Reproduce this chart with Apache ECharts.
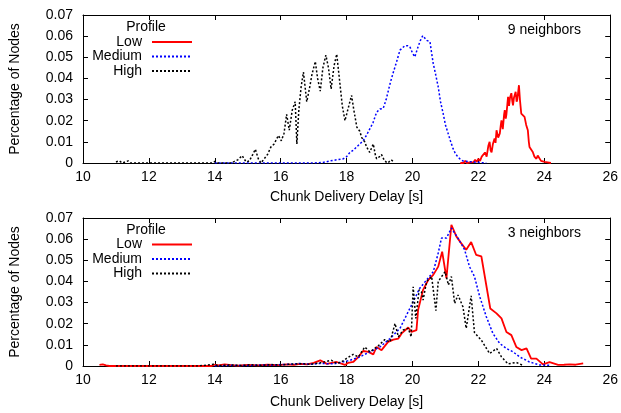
<!DOCTYPE html>
<html>
<head>
<meta charset="utf-8">
<script src="https://cdn.jsdelivr.net/npm/echarts@6/dist/echarts.min.js"></script>
<style>html,body{margin:0;padding:0;background:#fff}#c{width:621px;height:413px}</style>
</head>
<body>
<div id="c"></div>
<script>
// ---- data ----
const profiles = ['Low', 'Medium', 'High'];
const panelLabels = ['9 neighbors', '3 neighbors'];
const xAxisTitle = 'Chunk Delivery Delay [s]';
const yAxisTitle = 'Percentage of Nodes';
const xTicks = [10, 12, 14, 16, 18, 20, 22, 24, 26];
const yTicks = ['0', '0.01', '0.02', '0.03', '0.04', '0.05', '0.06', '0.07'];

// 9 neighbors
const low9 = [[21.45,0],[21.5,0.0005],[21.55,0],[21.6,0.001],[21.65,0],[21.7,0.0008],[21.75,0.0003],[21.8,0.0012],[21.85,0.0004],[21.9,0.0015],[21.95,0.0005],[22.0,0.002],[22.05,0.001],[22.1,0.003],[22.15,0.0025],[22.2,0.005],[22.25,0.003],[22.3,0.008],[22.34,0.010],[22.37,0.006],[22.4,0.005],[22.44,0.009],[22.49,0.0116],[22.52,0.0095],[22.55,0.0155],[22.6,0.012],[22.65,0.014],[22.68,0.018],[22.7,0.0202],[22.74,0.016],[22.78,0.023],[22.8,0.025],[22.83,0.021],[22.85,0.023],[22.88,0.028],[22.9,0.0313],[22.93,0.027],[22.96,0.031],[23.0,0.033],[23.03,0.029],[23.05,0.0273],[23.08,0.031],[23.13,0.0337],[23.16,0.029],[23.18,0.030],[23.21,0.034],[23.23,0.0368],[23.26,0.03],[23.3,0.0234],[23.34,0.024],[23.4,0.0218],[23.45,0.018],[23.5,0.0155],[23.53,0.01],[23.55,0.0076],[23.6,0.007],[23.65,0.0052],[23.7,0.003],[23.76,0.002],[23.8,0.0035],[23.86,0.0028],[23.9,0.001],[23.95,0.0015],[24.01,0.0005],[24.05,0.0012],[24.1,0.0003],[24.16,0.001],[24.2,0]];
const medium9 = [[14.0,0],[15.0,0],[16.0,0],[17.0,0],[17.3,0.0003],[17.5,0.001],[17.7,0.0015],[17.9,0.002],[18.0,0.003],[18.1,0.005],[18.2,0.006],[18.3,0.0075],[18.4,0.009],[18.5,0.0105],[18.6,0.013],[18.7,0.016],[18.8,0.019],[18.91,0.024],[19.01,0.0255],[19.11,0.0258],[19.2,0.03],[19.32,0.0376],[19.4,0.042],[19.5,0.047],[19.62,0.0534],[19.77,0.0555],[19.85,0.0555],[19.92,0.055],[20.0,0.052],[20.07,0.0502],[20.17,0.055],[20.24,0.058],[20.31,0.0602],[20.37,0.0595],[20.43,0.058],[20.53,0.0573],[20.58,0.052],[20.63,0.047],[20.7,0.042],[20.78,0.036],[20.85,0.029],[20.93,0.0234],[21.0,0.018],[21.08,0.014],[21.15,0.0105],[21.23,0.0068],[21.3,0.0045],[21.38,0.0028],[21.45,0.0018],[21.53,0.001],[21.7,0.0007],[21.84,0.0005],[22.0,0.0003],[22.24,0]];
const high9 = [[11.0,0.0005],[11.1,0.001],[11.2,0],[11.37,0.001],[11.45,0],[12.5,0],[13.9,0],[14.02,0.0008],[14.1,0],[14.5,0],[14.6,0.0008],[14.7,0.0015],[14.83,0.0035],[14.95,0.0005],[15.05,0.001],[15.15,0.004],[15.23,0.0065],[15.32,0.002],[15.4,0],[15.5,0.002],[15.6,0.004],[15.7,0.0075],[15.8,0.009],[15.93,0.013],[16.02,0.0105],[16.1,0.014],[16.18,0.023],[16.26,0.0155],[16.35,0.025],[16.44,0.029],[16.49,0.009],[16.55,0.025],[16.62,0.036],[16.69,0.043],[16.79,0.029],[16.87,0.035],[16.95,0.042],[17.05,0.048],[17.12,0.04],[17.2,0.034],[17.28,0.045],[17.37,0.051],[17.45,0.045],[17.53,0.035],[17.62,0.046],[17.7,0.0515],[17.78,0.04],[17.87,0.027],[17.95,0.02],[18.05,0.026],[18.15,0.032],[18.22,0.025],[18.31,0.017],[18.4,0.015],[18.46,0.012],[18.55,0.01],[18.61,0.0075],[18.7,0.005],[18.81,0.009],[18.87,0.004],[18.91,0.002],[19.0,0.003],[19.06,0.004],[19.15,0.001],[19.25,0],[19.35,0.0015],[19.4,0.0017],[19.45,0.0005]];

// 3 neighbors
const low3 = [[10.5,0.0005],[10.6,0.0008],[10.7,0.0003],[10.8,0],[12,0],[13.9,0],[14.0,0.0006],[14.1,0.0003],[14.3,0.0008],[14.5,0.0004],[14.7,0.0002],[15.0,0.0005],[15.3,0.0003],[15.6,0.0006],[15.9,0.0004],[16.2,0.0008],[16.4,0.0005],[16.59,0.001],[16.8,0.0008],[17.0,0.0015],[17.2,0.0027],[17.4,0.001],[17.55,0.0015],[17.7,0.0019],[17.95,0.0005],[18.05,0.0015],[18.2,0.0019],[18.36,0.0043],[18.5,0.0071],[18.66,0.0067],[18.81,0.0055],[18.91,0.009],[19.06,0.0075],[19.26,0.0114],[19.42,0.0125],[19.57,0.013],[19.67,0.0154],[19.87,0.0182],[19.97,0.0161],[20.12,0.017],[20.17,0.0265],[20.32,0.036],[20.48,0.0407],[20.63,0.0431],[20.78,0.047],[20.9,0.0541],[21.03,0.0415],[21.18,0.0668],[21.33,0.0613],[21.48,0.058],[21.63,0.055],[21.78,0.0586],[21.93,0.0526],[22.09,0.0518],[22.36,0.0272],[22.55,0.0249],[22.7,0.0225],[22.85,0.0161],[23.0,0.0146],[23.15,0.009],[23.31,0.0075],[23.46,0.0083],[23.6,0.0035],[23.76,0.0035],[23.96,0.0008],[24.16,0.0018],[24.42,0.0005],[24.6,0.0006],[24.77,0.0008],[24.95,0.0006],[25.18,0.0012]];
const medium3 = [[14.0,0],[14.5,0.0003],[15.0,0.0002],[15.5,0.0005],[15.8,0.0004],[16.0,0.0007],[16.3,0.0008],[16.59,0.0012],[16.9,0.0008],[17.2,0.0012],[17.6,0.001],[17.85,0.0018],[18.1,0.0027],[18.4,0.0043],[18.71,0.0067],[19.01,0.009],[19.32,0.013],[19.62,0.0178],[19.82,0.0241],[20.02,0.0304],[20.22,0.0368],[20.43,0.0407],[20.63,0.0446],[20.78,0.0534],[20.88,0.0605],[21.03,0.0605],[21.18,0.0652],[21.38,0.0605],[21.58,0.055],[21.73,0.047],[21.88,0.0423],[22.04,0.0328],[22.24,0.0233],[22.44,0.0154],[22.65,0.0106],[22.85,0.0083],[23.05,0.0067],[23.25,0.0043],[23.55,0.0019],[23.86,0.0005],[24.16,0.0003]];
const high3 = [[11.0,0],[12,0],[13.5,0],[13.97,0.0008],[14.1,0.0002],[14.5,0.0005],[14.8,0.0002],[15.1,0.0006],[15.4,0.0003],[15.7,0.0007],[16.0,0.0005],[16.3,0.0009],[16.6,0.0011],[16.9,0.0008],[17.2,0.0015],[17.54,0.0027],[17.7,0.0012],[17.85,0.002],[17.99,0.0035],[18.2,0.0055],[18.36,0.0043],[18.55,0.009],[18.71,0.0067],[18.96,0.0095],[19.16,0.0125],[19.32,0.0114],[19.47,0.0201],[19.57,0.0138],[19.72,0.017],[19.87,0.0178],[19.96,0.0138],[20.02,0.0375],[20.1,0.0225],[20.2,0.036],[20.27,0.0351],[20.32,0.0312],[20.43,0.04],[20.58,0.0423],[20.71,0.0262],[20.78,0.04],[20.83,0.0407],[20.99,0.0446],[21.09,0.0383],[21.18,0.0423],[21.28,0.0296],[21.38,0.0336],[21.53,0.028],[21.63,0.0178],[21.78,0.0332],[21.88,0.0158],[22.09,0.0122],[22.34,0.0059],[22.55,0.0083],[22.7,0.0043],[22.9,0.001],[23.15,0.0017],[23.35,0.0003]];

// ---- chart ----
const FONT = '"Liberation Sans", Arial, sans-serif';
const seriesStyles = {
  Low: { color: '#ff0000', width: 1.8, type: 'solid' },
  Medium: { color: '#0000ff', width: 1.5, type: [2, 2] },
  High: { color: '#000000', width: 1.5, type: [2, 2] }
};
const panelData = [[low9, medium9, high9], [low3, medium3, high3]];
const gridTops = [15, 218];
const gridH = 148;

function xAxisBottom(g, gap) {
  return {
    type: 'value', gridIndex: g, position: 'bottom', min: xTicks[0], max: xTicks[xTicks.length - 1],
    interval: xTicks[1] - xTicks[0],
    name: xAxisTitle, nameLocation: 'middle', nameGap: gap,
    nameTextStyle: { fontSize: 14, color: '#000', fontFamily: FONT },
    axisLine: { onZero: false, lineStyle: { color: '#000', width: 1 } },
    axisTick: { inside: true, length: 5, lineStyle: { color: '#000' } },
    axisLabel: { fontSize: 14, color: '#000', margin: 7, fontFamily: FONT,
      formatter: v => String(xTicks.find(t => Math.abs(t - v) < 1e-6) ?? v) },
    splitLine: { show: false }
  };
}
function xAxisTop(g) {
  return {
    type: 'value', gridIndex: g, position: 'top', min: xTicks[0], max: xTicks[xTicks.length - 1],
    interval: xTicks[1] - xTicks[0],
    axisLine: { onZero: false, lineStyle: { color: '#000', width: 1 } },
    axisTick: { inside: true, length: 5, lineStyle: { color: '#000' } },
    axisLabel: { show: false }, splitLine: { show: false }
  };
}
function yAxisLeft(g) {
  return {
    type: 'value', gridIndex: g, position: 'left', min: 0, max: 0.07, interval: 0.01,
    name: yAxisTitle, nameLocation: 'middle', nameGap: 61,
    nameTextStyle: { fontSize: 14, color: '#000', fontFamily: FONT },
    axisLine: { show: true, onZero: false, lineStyle: { color: '#000', width: 1 } },
    axisTick: { show: true, inside: true, length: 5, lineStyle: { color: '#000' } },
    axisLabel: { fontSize: 14, color: '#000', margin: 10, fontFamily: FONT,
      formatter: v => yTicks[Math.round(v / 0.01)] },
    splitLine: { show: false }
  };
}
function yAxisRight(g) {
  return {
    type: 'value', gridIndex: g, position: 'right', min: 0, max: 0.07, interval: 0.01,
    axisLine: { show: true, onZero: false, lineStyle: { color: '#000', width: 1 } },
    axisTick: { show: true, inside: true, length: 5, lineStyle: { color: '#000' } },
    axisLabel: { show: false }, splitLine: { show: false }
  };
}

const series = [];
panelData.forEach((arrs, p) => {
  arrs.forEach((d, i) => {
    const name = profiles[i];
    const st = seriesStyles[name];
    series.push({
      type: 'line', name: name, data: d, xAxisIndex: p * 2, yAxisIndex: p * 2,
      symbol: 'none', showSymbol: false, silent: true,
      itemStyle: { color: st.color },
      lineStyle: { color: st.color, width: st.width, type: st.type }
    });
  });
});

const legendTops = [35, 237.5];
const legends = legendTops.map(t => ({
  data: profiles,
  orient: 'vertical', align: 'right', right: 428, top: t, padding: 0,
  itemGap: 0.5, itemWidth: 40, itemHeight: 14, selectedMode: false,
  itemStyle: { opacity: 0, color: 'rgba(0,0,0,0)', borderWidth: 0 },
  textStyle: { fontSize: 14, color: '#000', fontFamily: FONT, lineHeight: 14, padding: [0, 5, 0, 0] }
}));

const graphics = [];
panelLabels.forEach((txt, p) => {
  graphics.push({ type: 'text', right: 40, top: gridTops[p] + 8,
    style: { text: txt, font: '14px ' + FONT, fill: '#000' } });
  graphics.push({ type: 'text', x: 146, y: gridTops[p] + 12, 
    style: { text: 'Profile', font: '14px ' + FONT, fill: '#000', textAlign: 'center', textVerticalAlign: 'middle' } });
});

const chart = echarts.init(document.getElementById('c'), null, { renderer: 'canvas' });
chart.setOption({
  animation: false,
  backgroundColor: '#fff',
  textStyle: { fontFamily: FONT },
  grid: gridTops.map(t => ({ left: 82, top: t, width: 528.5, height: gridH })),
  xAxis: [xAxisBottom(0, 27), xAxisTop(0), xAxisBottom(1, 29), xAxisTop(1)],
  yAxis: [yAxisLeft(0), yAxisRight(0), yAxisLeft(1), yAxisRight(1)],
  legend: legends,
  graphic: graphics,
  series: series
});
</script>
</body>
</html>
